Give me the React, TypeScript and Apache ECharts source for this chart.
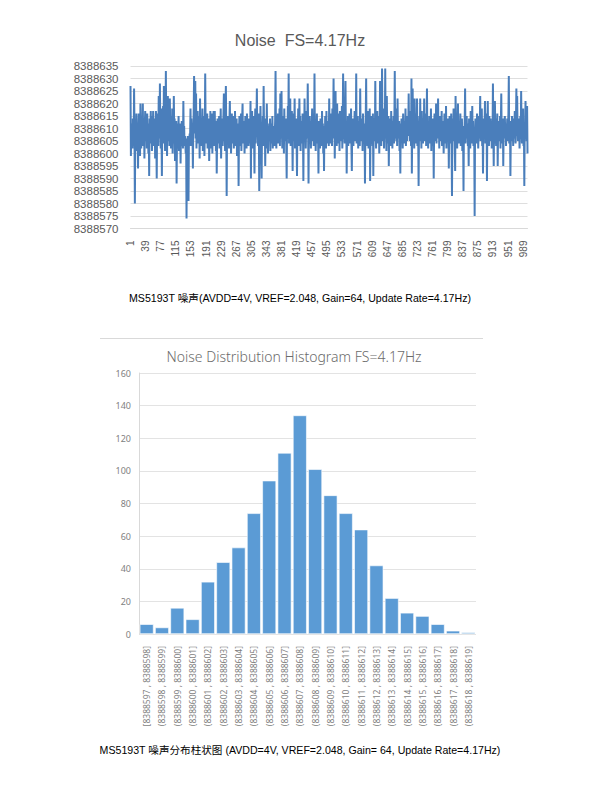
import React, { useEffect, useRef } from "react";
import * as echarts from "echarts";

const noiseBase = 8388600;
// offsets from 8388600 (1000 samples)
const noiseOffsets = [
  27, -1, 12, 5, 9, 2, 14, 8, 3, 26, 10, -20, 6, 12, 1, 16, 7, 3, 11, -6,
  9, 16, 4, 13, -1, 20, 8, 2, 15, 6, 10, 20, 3, 9, 14, -2, 11, 17, 5, 8,
  14, 2, 16, 7, 12, 0, 10, -9, 14, 6,
  9, 17, 4, 12, 1, 15, 8, 17, 3, 11, 6, 14, -2, 9, 17, 5, -10, 12, 7, 16,
  3, 23, 10, 6, 28, 11, 2, 18, 8, -9, 13, 6, 19, 4, 27, 9, 15, 1, 12, 33,
  7, 14, -1, 18, 23, 5, 11, 16, 3, 22,
  8, 15, 2, 12, 6, 18, 0, 10, 4, 23, 9, 14, -3, 11, 5, 13, -12, 7, 2, 12,
  6, 15, 1, 8, 4, 12, -4, 9, 3, 13, 5, 10, 2, 21, 6, 11, 3, 7, 4, 0,
  6, -26, 5, 4, 7, 3, -19, 6, 5, 8,
  7, 18, 3, 14, 6, 12, 9, -6, 10, 16, 31, 8, 19, 29, 6, 24, 2, 13, 9, 17,
  4, 15, 7, 11, -2, 22, 8, 14, 3, 10, 6, 18, 1, 12, 8, 15, -1, 9, 32, 11,
  4, 13, 7, 16, 2, 10, 5, 14, -3, 9,
  5, 17, 2, 11, 8, 16, 0, 12, 6, 17, 3, 10, 17, 7, 13, 1, 9, -8, 6, 14,
  4, 11, 8, 15, 2, 12, 6, 18, -2, 10, 7, 14, 3, 9, 16, 24, 5, 12, 1, 18,
  27, 8, -17, 10, 4, 15, 6, 11, 2, 13,
  21, 5, 12, 0, 9, 16, 4, 11, 7, 15, 2, 13, 6, 17, 3, 10, 8, 14, -1, 9,
  5, 12, -13, 8, 15, 3, 11, 6, 16, 1, 9, 14, 20, 4, 10, 7, 13, 0, 8, 15,
  5, 11, 2, 16, 6, 12, 9, 3, 14, 7,
  10, 4, 21, -10, 13, 6, 17, 2, 11, 8, 15, 5, -8, 12, 18, 4, 9, 14, 26, 7,
  13, 3, 16, 8, -15, 11, 5, 19, 9, 2, -10, 12, 6, 15, 3, 27, 10, 4, 14, -5,
  8, 13, 2, 20, 7, 11, 0, 9, 5, 12,
  6, 14, 1, 10, 4, 12, 7, 15, 2, 9, 5, 11, 3, 8, 13, 33, 9, 2, 14, 6,
  10, 16, 4, 12, 7, 18, 3, 24, 11, 6, 25, 9, 2, 15, 8, 13, 0, 18, 5, 11,
  7, 14, 3, -10, 12, 6, 19, 9, 32, 4,
  15, 8, 22, 3, 12, 6, 17, 10, -7, 13, 5, 16, 9, 22, 2, 11, 7, 14, 4, -9,
  12, 6, 18, 3, 10, 22, 8, 15, 1, 11, 7, 13, 4, 16, 9, -11, 12, 5, 22, 8,
  14, 2, 10, 17, 6, 11, 28, 9, -12, 12,
  4, 15, 7, 11, 2, 13, 8, 18, 5, 10, 14, 3, 9, 32, 6, 12, 1, 10, 7, 16,
  4, 11, 8, -8, 13, 5, 9, 2, 14, 7, 10, 3, 17, 6, 12, 0, 9, -7, 11, 5,
  15, 8, 2, 17, 6, 11, 4, 13, 9, 3,
  22, 7, 13, 4, 16, 9, 11, 3, 18, 6, 12, 30, 8, 15, -2, 10, 25, 6, 14, 3,
  20, 9, 4, 16, 7, 12, 1, 17, 10, 5, 13, 8, 19, 2, 11, 32, 6, 14, 9, 4,
  17, 29, 7, 12, -8, 10, 5, 15, 3, 11,
  8, 16, 4, 13, 9, 18, 2, -7, 12, 6, 14, 3, 10, 7, 17, 5, 11, 9, 32, 4,
  12, 6, 15, 2, 10, 8, 13, 3, 26, 9, 5, 14, 7, 11, 1, 16, 8, 12, 4, 10,
  -12, 7, 15, 30, 5, 11, 3, 17, 9, 2,
  13, 6, 18, -11, 10, 4, 15, 8, 12, 3, 16, -9, 11, 7, 14, 5, 29, 9, 2, 13,
  8, 17, 4, 11, 6, 15, 0, 10, 29, 7, 12, 3, 16, 34, 8, 13, 5, 18, 2, 11,
  6, 34, 9, 14, 1, 23, 7, 12, 4, 15,
  -5, 9, 14, 6, 11, 3, 17, 8, 13, 2, 10, 7, 15, 4, 12, 33, 6, 18, 9, 5,
  14, 3, 22, 8, 11, 6, 13, 1, 9, -8, 12, 5, 14, 7, 10, 2, 16, 8, 11, 4,
  13, 6, 18, 3, 9, 12, 5, 15, 7, 10,
  24, 8, 13, 5, 17, 10, 3, 30, -8, 12, 26, 6, 14, 9, 2, 22, 7, 11, 4, 16,
  8, 22, 3, 12, 6, -13, 10, 15, 5, 22, 9, 13, 2, 17, 7, 11, 4, 14, 8, 22,
  5, 12, 9, 16, 3, 10, 26, 7, 13, 2,
  11, 6, 15, 4, 13, 8, 18, 1, 10, 7, 14, 3, 12, -10, 9, 16, 5, 11, 8, 20,
  4, 13, 7, 10, 22, 6, 12, 2, 15, 9, 5, 14, 8, 17, 3, 11, 6, 13, 0, 9,
  16, 4, 12, 7, 19, 2, 10, 6, 14, 8,
  12, -6, 9, 15, 4, 11, 7, 16, 2, -17, 10, 14, 5, 18, 8, 12, 3, -7, 23, 9,
  6, 15, 2, 11, 20, 7, 13, 4, 10, 8, 16, 3, 12, 7, 14, 1, 9, 5, -15, 11,
  7, 13, 26, 4, 10, 6, 15, 8, 12, 3,
  9, -5, 14, 6, 11, 2, 17, 8, 12, 4, 19, 7, 13, 3, 10, 5, -25, 9, 14, 6,
  11, 4, 16, 8, 12, 2, 9, 15, 6, 13, 23, 5, 10, 7, 18, 3, 12, -8, 9, 14,
  6, 11, 21, 4, 13, 8, 16, -11, 10, 21,
  7, 12, 3, 15, 9, 5, 14, 8, 11, 2, 13, 6, 28, 9, -5, 12, 4, 21, 8, 14,
  3, 11, 6, 16, -5, 9, 13, 5, 10, 7, 15, 2, 12, 24, 8, 11, 4, 14, -5, 9,
  6, 13, 15, 7, 10, 3, 12, 8, 14, 5,
  11, 16, 31, 4, 9, 13, -9, 7, 12, 5, 15, 8, 10, 3, 14, 6, 11, 17, 9, 4,
  13, 26, 7, 23, 10, 5, 14, 8, 12, 2, 9, 15, 6, 25, 11, 4, 13, 7, 18, 3,
  10, -13, 12, 6, 21, 8, 14, 5, 19, 0,
];
const noiseValues = noiseOffsets.map((d) => noiseBase + d);
const sampleLabels = noiseValues.map((_, i) => String(i + 1));

const histBinStarts = [
  8388597, 8388598, 8388599, 8388600, 8388601, 8388602, 8388603, 8388604,
  8388605, 8388606, 8388607, 8388608, 8388609, 8388610, 8388611, 8388612,
  8388613, 8388614, 8388615, 8388616, 8388617, 8388618,
];
const histLabels = histBinStarts.map(
  (s, i) => (i === 0 ? "[" : "(") + s + " , " + (s + 1) + "]"
);
const histCounts = [6, 4, 16, 9, 32, 44, 53, 74, 94, 111, 134, 101, 85, 74, 64, 42, 22, 13, 11, 6, 2, 1];

const title1 = "Noise  FS=4.17Hz";
const title2 = "Noise Distribution Histogram FS=4.17Hz";
const caption1 = "MS5193T 噪声(AVDD=4V, VREF=2.048, Gain=64, Update Rate=4.17Hz)";
const caption2 = "MS5193T 噪声分布柱状图 (AVDD=4V, VREF=2.048, Gain= 64, Update Rate=4.17Hz)";

export default function App() {
  const ref = useRef<HTMLDivElement>(null);
  useEffect(() => {
    if (!ref.current) return;
    const chart = echarts.init(ref.current, null, { renderer: "svg" });
    const capFont = "10.6px 'Liberation Sans', 'Noto Sans CJK SC', sans-serif";
    chart.setOption({
      animation: false,
      backgroundColor: "#ffffff",
      grid: [
        { left: 130.5, right: 73.5, top: 66, bottom: 557.5 },
        { left: 139, right: 125, top: 373, bottom: 152 },
      ],
      xAxis: [
        {
          gridIndex: 0,
          type: "category",
          data: sampleLabels,
          boundaryGap: false,
          axisLine: { lineStyle: { color: "#d9d9d9" } },
          axisTick: { show: false },
          axisLabel: {
            interval: 37,
            rotate: 90,
            margin: 12,
            color: "#595959",
            fontSize: 10,
            fontFamily: "Liberation Sans",
          },
        },
        {
          gridIndex: 1,
          type: "category",
          data: histLabels,
          axisLine: { show: false },
          axisTick: { show: false },
          axisLabel: {
            interval: 0,
            rotate: 90,
            margin: 12,
            color: "#7f7f7f",
            fontSize: 8.5,
            fontFamily: "Noto Sans",
          },
        },
      ],
      yAxis: [
        {
          gridIndex: 0,
          type: "value",
          min: 8388570,
          max: 8388635,
          interval: 5,
          axisLine: { show: false },
          axisTick: { show: false },
          splitLine: { lineStyle: { color: "#dedede" } },
          axisLabel: {
            formatter: (v: number) => String(v),
            margin: 12,
            color: "#595959",
            fontSize: 11.5,
            fontFamily: "Liberation Sans",
          },
        },
        {
          gridIndex: 1,
          type: "value",
          min: 0,
          max: 160,
          interval: 20,
          axisLine: { show: true, lineStyle: { color: "#d9d9d9" } },
          axisTick: { show: false },
          splitLine: { lineStyle: { color: "#e3e3e3" } },
          axisLabel: {
            margin: 8,
            color: "#7f7f7f",
            fontSize: 9,
            fontFamily: "Noto Sans",
          },
        },
      ],
      series: [
        {
          type: "line",
          xAxisIndex: 0,
          yAxisIndex: 0,
          data: noiseValues,
          symbol: "none",
          lineStyle: { color: "#4a7ebb", width: 2 },
        },
        {
          type: "bar",
          xAxisIndex: 1,
          yAxisIndex: 1,
          data: histCounts,
          barCategoryGap: "10%",
          itemStyle: { color: "#5b9bd5", borderColor: "#ffffff", borderWidth: 0.6 },
        },
      ],
      graphic: [
        {
          type: "text",
          x: 300,
          y: 40,
          style: {
            text: title1,
            fill: "#595959",
            font: "16px 'Liberation Sans', sans-serif",
            align: "center",
            verticalAlign: "middle",
          },
        },
        {
          type: "line",
          shape: { x1: 100, y1: 338.5, x2: 483, y2: 338.5 },
          style: { stroke: "#d9d9d9", lineWidth: 1 },
        },
        {
          type: "text",
          x: 294,
          y: 356,
          style: {
            text: title2,
            fill: "#6b6b6b",
            font: "300 14px 'Noto Sans', sans-serif",
            align: "center",
            verticalAlign: "middle",
          },
        },
        {
          type: "text",
          x: 300,
          y: 298,
          style: {
            text: caption1,
            fill: "#000000",
            font: capFont,
            align: "center",
            verticalAlign: "middle",
          },
        },
        {
          type: "text",
          x: 300,
          y: 750,
          style: {
            text: caption2,
            fill: "#000000",
            font: capFont,
            align: "center",
            verticalAlign: "middle",
          },
        },
      ],
    });
    return () => chart.dispose();
  }, []);
  return (
    <div
      ref={ref}
      style={{ position: "absolute", left: 0, top: 0, width: 601, height: 786 }}
    />
  );
}
